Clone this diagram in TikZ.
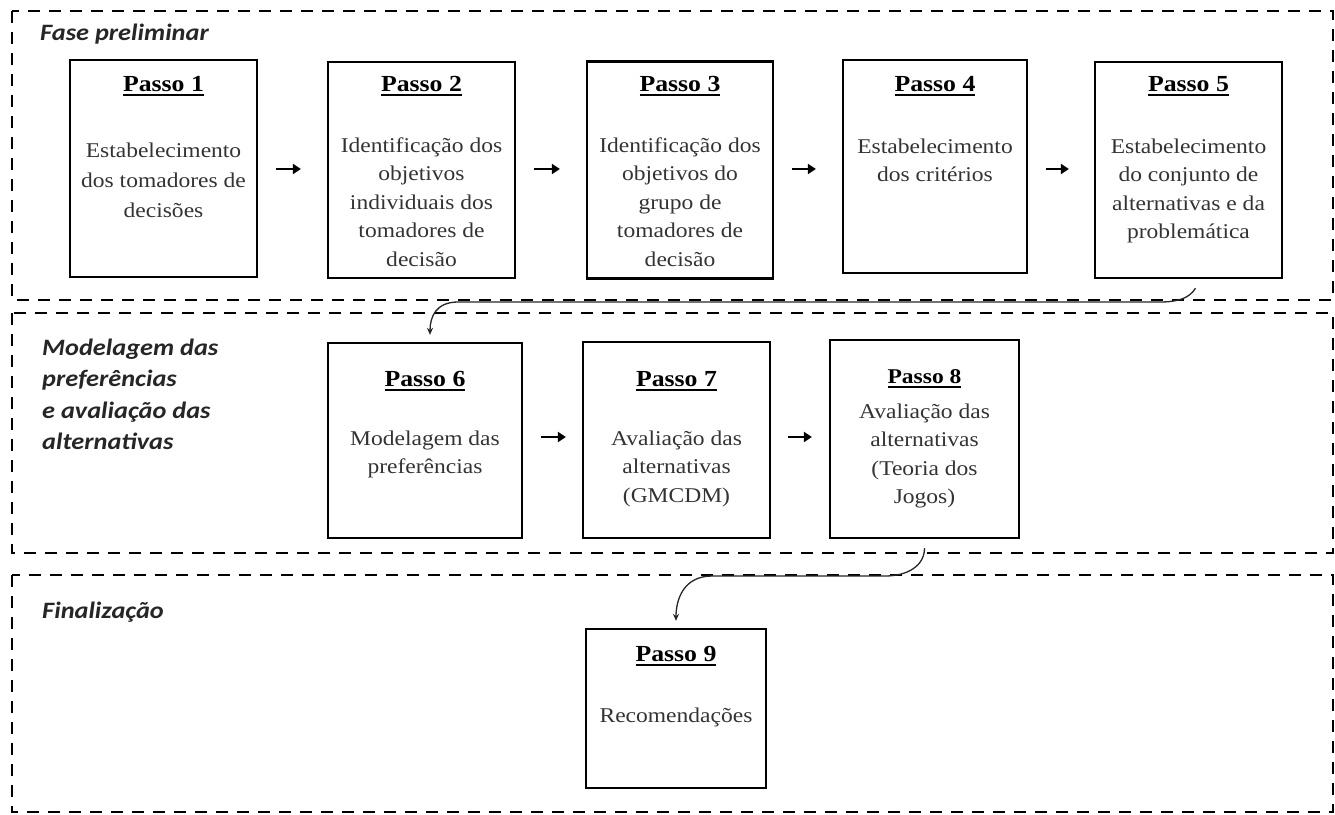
\documentclass[tikz,border=0pt]{standalone}
\usepackage{fontspec}
\setmainfont[FakeStretch=1.12]{Liberation Serif}
\newfontfamily\phasefont[FakeStretch=1.12]{Carlito}
\usetikzlibrary{arrows.meta}

% underlined step title with a thick rule
\newsavebox\titlebox
\newcommand\passotitle[1]{\sbox\titlebox{#1}\rlap{\rule[-5pt]{\wd\titlebox}{1.8pt}}\usebox\titlebox}

\begin{document}
\begin{tikzpicture}[x=1pt,y=-1pt,
  phaseframe/.style={draw, line width=2.6pt, dash pattern=on 12pt off 9pt},
  phase/.style={font={\phasefont\bfseries\itshape\fontsize{23.5}{31.5}\selectfont}, inner sep=0pt, text=black!85},
  stepbox/.style={draw, line width=2.3pt, inner sep=0pt},
  steptitle/.style={font={\bfseries\fontsize{23}{28}\selectfont}, inner sep=0pt, anchor=base},
  stepbody/.style={font={\fontsize{21}{28.5}\selectfont}, align=center, inner sep=0pt, anchor=base, text=black!80},
  flow/.style={line width=2.4pt, -{Triangle[length=8pt,width=10pt]}},
  link/.style={line width=1.3pt, black!85, -{Stealth[length=7pt,width=6pt]}}
]
\useasboundingbox (0,0) rectangle (1335,814);

% phase frames
\draw[phaseframe] (12,11) rectangle (1333,300);
\draw[phaseframe] (12,313) rectangle (1333,553);
\draw[phaseframe] (12,575) rectangle (1333,812);

% phase labels (base anchor sits on the last line)
\node[phase, anchor=base west] (ph1) at (40,40) {Fase preliminar};
\node[phase, anchor=base west, align=left] (ph2) at (42,449.5) {Modelagem das\\preferências\\e avaliação das\\alternativas};
\node[phase, anchor=base west] (ph3) at (42,618) {Finalização};

% step boxes
\node[stepbox, minimum width=187pt, minimum height=217pt] (b1) at (163.5,168.5) {};
\node[stepbox, minimum width=187pt, minimum height=216pt] (b2) at (421.5,170) {};
\node[stepbox, minimum width=186pt, minimum height=217pt] (b3) at (680,170) {};
\node[stepbox, minimum width=184pt, minimum height=213pt] (b4) at (935,166.5) {};
\node[stepbox, minimum width=187pt, minimum height=216pt] (b5) at (1188.5,170) {};
\node[stepbox, minimum width=194pt, minimum height=195pt] (b6) at (425,440.5) {};
\node[stepbox, minimum width=187pt, minimum height=196pt] (b7) at (676.5,440) {};
\node[stepbox, minimum width=189pt, minimum height=198pt] (b8) at (924.5,439) {};
\node[stepbox, minimum width=180pt, minimum height=159pt] (b9) at (676,708.5) {};

% step titles
\node[steptitle] (t1) at (b1.center |- 0,91) {\passotitle{Passo 1}};
\node[steptitle] (t2) at (b2.center |- 0,91) {\passotitle{Passo 2}};
\node[steptitle] (t3) at (b3.center |- 0,91) {\passotitle{Passo 3}};
\node[steptitle] (t4) at (b4.center |- 0,91) {\passotitle{Passo 4}};
\node[steptitle] (t5) at (b5.center |- 0,91) {\passotitle{Passo 5}};
\node[steptitle] (t6) at (b6.center |- 0,386) {\passotitle{Passo 6}};
\node[steptitle] (t7) at (b7.center |- 0,386) {\passotitle{Passo 7}};
\node[steptitle, font={\bfseries\fontsize{21}{26}\selectfont}] (t8) at (b8.center |- 0,383) {\passotitle{Passo 8}};
\node[steptitle] (t9) at (b9.center |- 0,661) {\passotitle{Passo 9}};

% step descriptions (placed by the baseline of their last line)
\node[stepbody, font={\fontsize{21}{30}\selectfont}] (d1) at (b1.center |- 0,217) {Estabelecimento\\dos tomadores de\\decisões};
\node[stepbody] (d2) at (b2.center |- 0,266) {Identificação dos\\objetivos\\individuais dos\\tomadores de\\decisão};
\node[stepbody] (d3) at (b3.center |- 0,266) {Identificação dos\\objetivos do\\grupo de\\tomadores de\\decisão};
\node[stepbody] (d4) at (b4.center |- 0,181.5) {Estabelecimento\\dos critérios};
\node[stepbody] (d5) at (b5.center |- 0,238.5) {Estabelecimento\\do conjunto de\\alternativas e da\\problemática};
\node[stepbody] (d6) at (b6.center |- 0,473.5) {Modelagem das\\preferências};
\node[stepbody] (d7) at (b7.center |- 0,502) {Avaliação das\\alternativas\\(GMCDM)};
\node[stepbody] (d8) at (b8.center |- 0,503.5) {Avaliação das\\alternativas\\(Teoria dos\\Jogos)};
\node[stepbody] (d9) at (b9.center |- 0,722) {Recomendações};

% arrows within a phase
\draw[flow, shorten <=18pt, shorten >=26pt] (b1.east |- 0,169) -- (b2.west |- 0,169);
\draw[flow, shorten <=18pt, shorten >=26pt] (b2.east |- 0,169) -- (b3.west |- 0,169);
\draw[flow, shorten <=18pt, shorten >=26pt] (b3.east |- 0,169) -- (b4.west |- 0,169);
\draw[flow, shorten <=18pt, shorten >=25pt] (b4.east |- 0,169) -- (b5.west |- 0,169);
\draw[flow, shorten <=18pt, shorten >=16pt] (b6.east |- 0,437) -- (b7.west |- 0,437);
\draw[flow, shorten <=17pt, shorten >=17pt] (b7.east |- 0,437) -- (b8.west |- 0,437);

% links between phases
\coordinate (k1) at (1160,302);
\coordinate (k2) at (458,302);
\draw[link] ([xshift=7pt,yshift=-9pt]b5.south) .. controls +(-6,10) and +(18,0) .. (k1) -- (k2) .. controls +(-22,0) and +(0,-18) .. ([xshift=5pt,yshift=7pt]b6.north);
\coordinate (k3) at (885,576);
\coordinate (k4) at (712,576);
\draw[link] ([yshift=-9pt]b8.south) .. controls +(0,18) and +(22,0) .. (k3) -- (k4) .. controls +(-28,0) and +(0,-22) .. ([yshift=7pt]b9.north);
\end{tikzpicture}
\end{document}
